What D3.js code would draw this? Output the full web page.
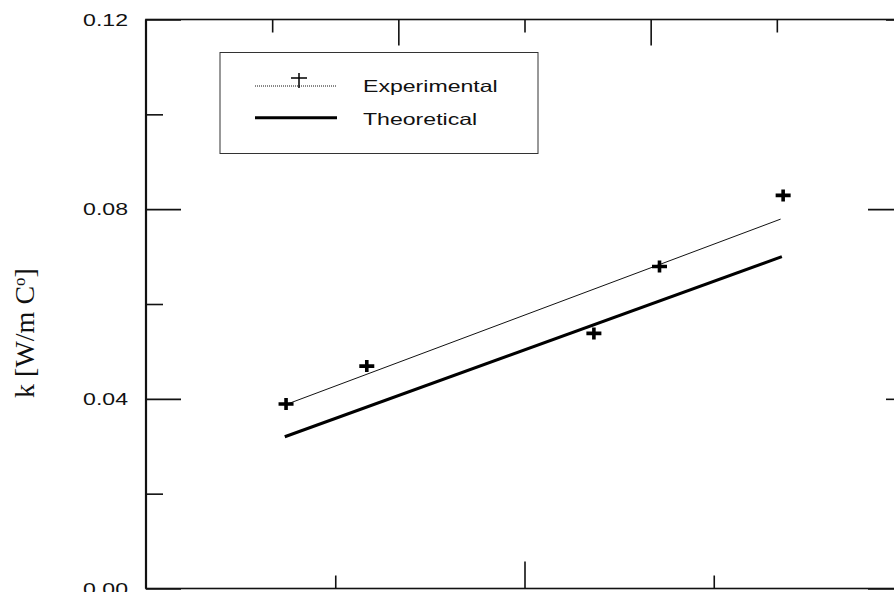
<!DOCTYPE html>
<html lang="en">
<head>
<meta charset="UTF-8">
<title>k [W/m C]</title>
<script src="https://d3js.org/d3.v7.min.js"></script>
<style>
  body { margin: 0; background: #fff; }
  svg { display: block; }
</style>
</head>
<body>
<svg id="chart" width="894" height="592"></svg>
<script>
// measured points
const expX = [11.1, 17.5, 35.5, 40.7, 50.5];
const expY = [0.0389, 0.0469, 0.0538, 0.0679, 0.0829];
// straight line through the measured points
const fitX = [11.0, 50.3];
const fitY = [0.0387, 0.0779];
// theoretical line
const theoryX = [11.0, 50.4];
const theoryY = [0.0320, 0.0700];

// ticks
const leftMajor = [0, 0.04, 0.08, 0.12];
const leftLabels = ["0.00", "0.04", "0.08", "0.12"];
const leftMinor = [0.02, 0.06, 0.10];
const bottomMajor = [30];
const bottomMinor = [15, 45];
const topMajor = [20, 40];
const topMinor = [10, 30, 50];
const rightMajor = [0, 0.08];
const rightMinor = [0.04, 0.12];
const legendNames = ["Experimental", "Theoretical"];

const svg = d3.select("#chart");
const pLeft = 146, pRight = 903, pTop = 19.5, pBottom = 588.5;
const x = d3.scaleLinear().domain([0, 60]).range([pLeft, pRight]);
const y = d3.scaleLinear().domain([0, 0.12]).range([pBottom, pTop]);
const stretch = 1.4; // the lettering in the original is drawn wide

// tick marks, all pointing into the plot
function tickSet(axisFn, scale, vals, len, tr) {
    const g = svg.append("g")
        .attr("transform", tr)
        .call(axisFn(scale).tickValues(vals).tickSize(-len).tickSizeOuter(0).tickFormat(""));
    g.select(".domain").remove();
    g.selectAll("line").attr("stroke", "#111").attr("stroke-width", 1.6);
}
tickSet(d3.axisLeft, y, leftMajor, 35, `translate(${pLeft},0)`);
tickSet(d3.axisLeft, y, leftMinor, 17, `translate(${pLeft},0)`);
tickSet(d3.axisRight, y, rightMajor, 35, `translate(${pRight},0)`);
tickSet(d3.axisRight, y, rightMinor, 17, `translate(${pRight},0)`);
tickSet(d3.axisBottom, x, bottomMajor, 27, `translate(0,${pBottom})`);
tickSet(d3.axisBottom, x, bottomMinor, 13, `translate(0,${pBottom})`);
tickSet(d3.axisTop, x, topMajor, 26, `translate(0,${pTop})`);
tickSet(d3.axisTop, x, topMinor, 13, `translate(0,${pTop})`);

// frame
svg.append("rect")
    .attr("x", pLeft).attr("y", pTop)
    .attr("width", pRight - pLeft).attr("height", pBottom - pTop)
    .attr("fill", "none").attr("stroke", "#111").attr("stroke-width", 1.6);
svg.append("line")
    .attr("x1", pLeft).attr("x2", pLeft).attr("y1", pTop).attr("y2", pBottom)
    .attr("stroke", "#111").attr("stroke-width", 2.2);

// y tick labels
svg.selectAll("text.ylab")
    .data(leftMajor)
    .enter()
    .append("text")
    .attr("class", "ylab")
    .attr("transform", d => `translate(128,${y(d) + 6}) scale(${stretch},1)`)
    .attr("text-anchor", "end")
    .attr("font-family", "Liberation Sans, Arial, sans-serif")
    .attr("font-size", "16.5px")
    .attr("fill", "#111")
    .text((d, i) => leftLabels[i]);

// y axis title
const yt = svg.append("text")
    .attr("transform", `translate(33.5,333) rotate(-90)`)
    .attr("text-anchor", "middle")
    .attr("font-family", "Liberation Serif, Times New Roman, serif")
    .attr("font-size", "28px")
    .attr("fill", "#111");
yt.append("tspan").text("k [W/m C");
yt.append("tspan").attr("baseline-shift", "super").attr("font-size", "17px").text("o");
yt.append("tspan").text("]");

// lines
const line = d3.line().x(d => x(d[0])).y(d => y(d[1]));
svg.append("path")
    .datum(d3.zip(fitX, fitY))
    .attr("d", line)
    .attr("fill", "none").attr("stroke", "#111").attr("stroke-width", 1);
svg.append("path")
    .datum(d3.zip(theoryX, theoryY))
    .attr("d", line)
    .attr("fill", "none").attr("stroke", "#000").attr("stroke-width", 3);

// measured points as bold crosses
svg.selectAll("path.pt")
    .data(d3.zip(expX, expY))
    .enter()
    .append("path")
    .attr("class", "pt")
    .attr("transform", d => `translate(${x(d[0])},${y(d[1])})`)
    .attr("d", "M-7.5,0H7.5M0,-6V6")
    .attr("stroke", "#000").attr("stroke-width", 3.6).attr("fill", "none");

// legend
const lg = svg.append("g");
lg.append("rect")
    .attr("x", 220).attr("y", 52.5).attr("width", 318).attr("height", 101)
    .attr("fill", "#fff").attr("stroke", "#333").attr("stroke-width", 1);
lg.append("line")
    .attr("x1", 255).attr("x2", 337).attr("y1", 86).attr("y2", 86)
    .attr("stroke", "#111").attr("stroke-width", 1).attr("stroke-dasharray", "1,1");
lg.append("path")
    .attr("transform", "translate(299,80.5)")
    .attr("d", "M-8,-2.5H8M0,-7.5V7.5")
    .attr("stroke", "#000").attr("stroke-width", 1.5).attr("fill", "none");
lg.append("line")
    .attr("x1", 255).attr("x2", 337).attr("y1", 117.7).attr("y2", 117.7)
    .attr("stroke", "#000").attr("stroke-width", 3);
lg.selectAll("text")
    .data(legendNames)
    .enter()
    .append("text")
    .attr("transform", (d, i) => `translate(363,${i === 0 ? 92 : 124.5}) scale(${stretch},1)`)
    .attr("font-family", "Liberation Sans, Arial, sans-serif")
    .attr("font-size", "16.5px")
    .attr("fill", "#111")
    .text(d => d);
</script>
</body>
</html>
